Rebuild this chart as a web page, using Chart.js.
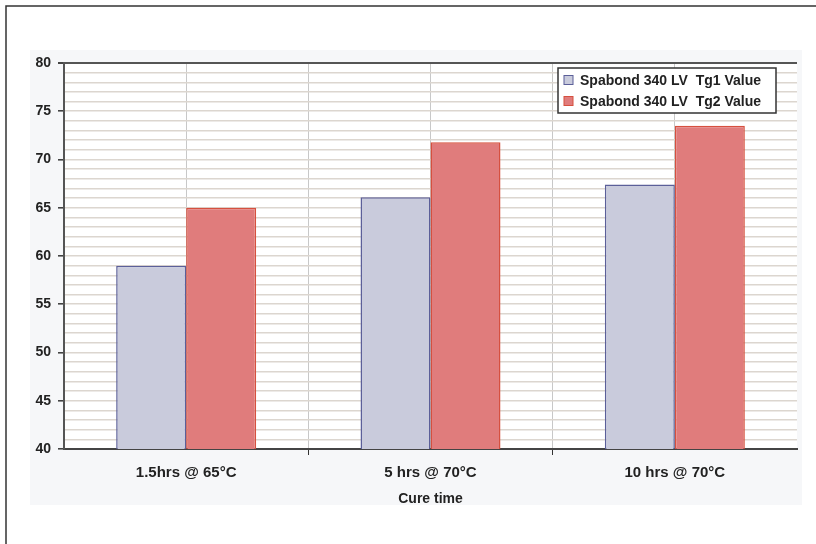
<!DOCTYPE html>
<html>
<head>
<meta charset="utf-8">
<script src="https://cdn.jsdelivr.net/npm/chart.js@4/dist/chart.umd.min.js"></script>
<style>
  html, body { margin: 0; padding: 0; background: #ffffff; }
  #wrap { width: 816px; height: 544px; position: relative; }
</style>
</head>
<body>
<div id="wrap"><canvas id="c" width="816" height="544"></canvas></div>
<script>
// Glass transition temperature by cure schedule
const categories = ['1.5hrs @ 65°C', '5 hrs @ 70°C', '10 hrs @ 70°C'];
const tg1Values = [59.0, 66.1, 67.4];
const tg2Values = [65.0, 71.8, 73.5];
const seriesNames = ['Spabond 340 LV  Tg1 Value', 'Spabond 340 LV  Tg2 Value'];
const yMin = 40, yMax = 80, yLabelStep = 5;
const xTitle = 'Cure time';

const FONT = "'Liberation Sans', Arial, sans-serif";

// Page frame and tinted chart panel, drawn under everything
const backdrop = {
  id: 'backdrop',
  beforeDraw(chart) {
    const { ctx, chartArea: a } = chart;
    ctx.save();
    ctx.fillStyle = '#f6f7f9';
    ctx.fillRect(30, 50, 772, 455);
    ctx.fillStyle = '#ffffff';
    ctx.fillRect(a.left, a.top, a.right - a.left, a.bottom - a.top);
    ctx.strokeStyle = '#333333';
    ctx.lineWidth = 1.5;
    ctx.beginPath();
    ctx.moveTo(6, 544);
    ctx.lineTo(6, 6);
    ctx.lineTo(816, 6);
    ctx.stroke();
    ctx.restore();
  }
};

// Boxed legend inside the plot, top-right
const boxLegend = {
  id: 'boxLegend',
  afterDraw(chart) {
    const { ctx, chartArea: a } = chart;
    const w = 218, h = 45;
    const x = a.right - 21 - w, y = a.top + 5;
    ctx.save();
    ctx.fillStyle = '#ffffff';
    ctx.fillRect(x, y, w, h);
    ctx.strokeStyle = '#333333';
    ctx.lineWidth = 1.5;
    ctx.strokeRect(x, y, w, h);
    ctx.font = 'bold 14px ' + FONT;
    ctx.textBaseline = 'middle';
    chart.data.datasets.forEach((ds, i) => {
      const cy = y + 12 + i * 21;
      ctx.fillStyle = ds.backgroundColor;
      ctx.fillRect(x + 6, cy - 4.5, 9, 9);
      ctx.strokeStyle = ds.borderColor;
      ctx.lineWidth = 1;
      ctx.strokeRect(x + 6, cy - 4.5, 9, 9);
      ctx.fillStyle = '#222222';
      ctx.fillText(ds.label, x + 22, cy + 1);
    });
    ctx.restore();
  }
};

new Chart(document.getElementById('c'), {
  type: 'bar',
  data: {
    labels: categories,
    datasets: [
      {
        label: seriesNames[0],
        data: tg1Values,
        backgroundColor: '#c9cbdc',
        borderColor: '#5b5f99',
        borderWidth: 1.5
      },
      {
        label: seriesNames[1],
        data: tg2Values,
        backgroundColor: '#e07c7c',
        borderColor: '#d6503f',
        borderWidth: 1.5
      }
    ]
  },
  options: {
    responsive: false,
    animation: false,
    devicePixelRatio: 1,
    layout: { padding: { left: 20, right: 19, top: 63, bottom: 36 } },
    datasets: { bar: { categoryPercentage: 0.573, barPercentage: 1.0 } },
    plugins: {
      legend: { display: false },
      tooltip: { enabled: false }
    },
    scales: {
      x: {
        type: 'category',
        offset: true,
        border: { display: true, color: '#444444', width: 2 },
        grid: {
          offset: true,
          drawOnChartArea: true,
          color: (c) => (c.type === 'tick' && c.index > 0) ? '#c8c8c8' : 'rgba(0,0,0,0)',
          tickColor: (c) => (c.type === 'tick' && c.index > 0) ? '#333333' : 'rgba(0,0,0,0)',
          lineWidth: 1,
          tickLength: 6
        },
        ticks: {
          color: '#222222',
          font: { family: FONT, size: 15, weight: 'bold' },
          padding: 9,
          maxRotation: 0
        },
        title: {
          display: true,
          text: xTitle,
          color: '#222222',
          font: { family: FONT, size: 14, weight: 'bold' },
          padding: { top: 8, bottom: 0 }
        },
        afterFit: (s) => { s.height = 59; }
      },
      xMid: {
        type: 'category',
        position: 'top',
        offset: true,
        labels: categories,
        border: { display: false },
        grid: {
          offset: false,
          drawTicks: false,
          color: '#c8c8c8',
          lineWidth: 1
        },
        ticks: { display: false }
      },
      y: {
        min: yMin,
        max: yMax,
        border: { display: true, color: '#555555', width: 2 },
        grid: {
          color: (c) => c.tick && c.tick.value === yMax ? '#555555' : '#dcd6cf',
          lineWidth: (c) => c.tick && c.tick.value === yMax ? 2 : 1.6,
          tickColor: (c) => c.tick && c.tick.value % yLabelStep === 0 ? '#444444' : 'rgba(0,0,0,0)',
          tickLength: 6
        },
        ticks: {
          stepSize: 1,
          autoSkip: false,
          color: '#222222',
          font: { family: FONT, size: 14, weight: 'bold' },
          padding: 7,
          callback: (v) => v % yLabelStep === 0 ? String(v) : ''
        },
        afterFit: (s) => { s.width = 44; }
      }
    }
  },
  plugins: [backdrop, boxLegend]
});
</script>
</body>
</html>
